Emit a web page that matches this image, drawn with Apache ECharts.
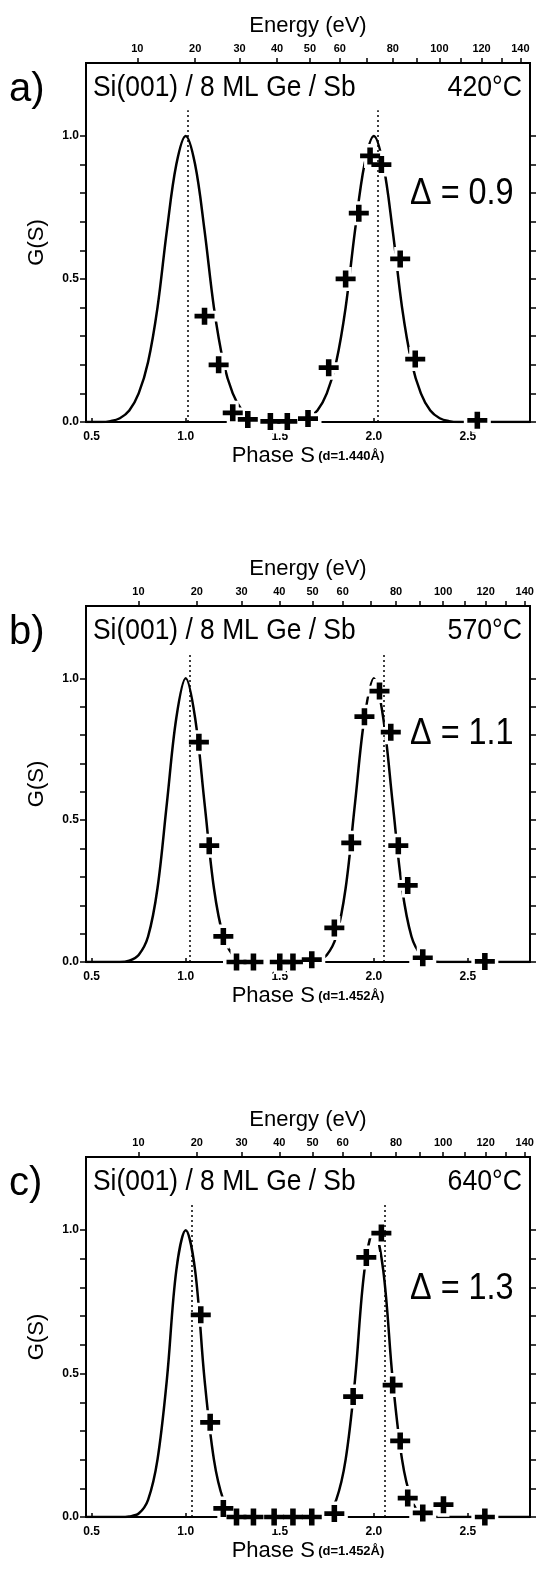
<!DOCTYPE html>
<html>
<head>
<meta charset="utf-8">
<script src="https://cdn.jsdelivr.net/npm/echarts@6/dist/echarts.min.js"></script>
<style>
html, body { margin: 0; background: #fff; }
#chart { width: 538px; height: 1571px; }
</style>
</head>
<body>
<div id="chart"></div>
<script>
// tick values
var phaseTicks = [0.5, 1.0, 1.5, 2.0, 2.5];
var gTicks = [0, 0.1, 0.2, 0.3, 0.4, 0.5, 0.6, 0.7, 0.8, 0.9, 1.0];
var gLabels = [0, 0.5, 1.0];
var energyLabels = [10, 20, 30, 40, 50, 60, 80, 100, 120, 140];
var energyMinor = [70, 90, 110, 130];

// panel texts
var panelNames = ['a)', 'b)', 'c)'];
var temps = ['420°C', '570°C', '640°C'];
var deltas = ['Δ = 0.9', 'Δ = 1.1', 'Δ = 1.3'];
var spacings = [1.440, 1.452, 1.452];

// fitted G(S) curves
var curveS = [0.47, 0.50, 0.55, 0.60, 0.65, 0.70, 0.75, 0.80, 0.85, 0.90, 0.95, 1.00, 1.05, 1.10, 1.15, 1.20, 1.25,
    1.30, 1.35, 1.40, 1.45, 1.50, 1.55, 1.60, 1.65, 1.70, 1.75, 1.80, 1.85, 1.90, 1.95, 2.00, 2.05, 2.10, 2.15, 2.20,
    2.25, 2.30, 2.35, 2.40, 2.45, 2.50, 2.55, 2.60, 2.65, 2.70, 2.75, 2.80, 2.83];
var curveGa = [0, 0, 0, 0.003, 0.013, 0.04, 0.10, 0.21, 0.40, 0.67, 0.90, 1.00, 0.90, 0.67, 0.40, 0.21, 0.10,
    0.04, 0.013, 0.003, 0, 0, 0, 0.003, 0.013, 0.04, 0.10, 0.21, 0.40, 0.67, 0.90, 1.00, 0.90, 0.67, 0.40, 0.21,
    0.10, 0.04, 0.013, 0.003, 0, 0, 0, 0, 0, 0, 0, 0, 0];
var curveGb = [0, 0, 0, 0, 0, 0.005, 0.025, 0.09, 0.26, 0.56, 0.86, 1.00, 0.86, 0.56, 0.26, 0.09, 0.025,
    0.005, 0, 0, 0, 0, 0, 0, 0, 0.005, 0.025, 0.09, 0.26, 0.56, 0.86, 1.00, 0.86, 0.56, 0.26, 0.09,
    0.025, 0.005, 0, 0, 0, 0, 0, 0, 0, 0, 0, 0, 0];
var curveGc = [0, 0, 0, 0, 0, 0.002, 0.012, 0.06, 0.20, 0.48, 0.86, 1.00, 0.86, 0.48, 0.20, 0.06, 0.012,
    0.002, 0, 0, 0, 0, 0, 0, 0, 0.002, 0.012, 0.06, 0.20, 0.48, 0.86, 1.00, 0.86, 0.48, 0.20, 0.06,
    0.012, 0.002, 0, 0, 0, 0, 0, 0, 0, 0, 0, 0, 0];

// measured points (crosses)
var crossSa = [1.10, 1.175, 1.25, 1.33, 1.45, 1.54, 1.65, 1.76, 1.85, 1.92, 1.98, 2.04, 2.14, 2.22, 2.55];
var crossGa = [0.37, 0.20, 0.032, 0.009, 0.002, 0.002, 0.012, 0.19, 0.50, 0.73, 0.93, 0.90, 0.57, 0.22, 0.006];
var crossSb = [1.07, 1.125, 1.20, 1.27, 1.36, 1.50, 1.57, 1.67, 1.79, 1.88, 1.95, 2.03, 2.09, 2.13, 2.18, 2.26, 2.59];
var crossGb = [0.775, 0.41, 0.09, 0, 0, 0, 0, 0.008, 0.12, 0.42, 0.865, 0.955, 0.81, 0.41, 0.27, 0.015, 0.002];
var crossSc = [1.08, 1.13, 1.20, 1.27, 1.36, 1.47, 1.57, 1.67, 1.79, 1.89, 1.96, 2.04, 2.10, 2.14, 2.18, 2.26, 2.37, 2.59];
var crossGc = [0.705, 0.33, 0.03, 0, 0, 0, 0, 0, 0.012, 0.42, 0.905, 0.99, 0.46, 0.265, 0.066, 0.014, 0.043, 0];

// dotted reference lines (phase S)
var dottedA = [1.01, 2.02];
var dottedB = [1.02, 2.05];
var dottedC = [1.03, 2.06];

var curves = [curveGa, curveGb, curveGc];
var crossS = [crossSa, crossSb, crossSc];
var crossG = [crossGa, crossGb, crossGc];
var dotted = [dottedA, dottedB, dottedC];

var FONT = "'Liberation Sans', Arial, sans-serif";
var gridTops = [63, 606, 1157];
var gridHeights = [359, 356, 360];
var xMin = 0.47, xMax = 2.83, yMax = 1.255;

var crossPath = 'path://M6.5,0H11.5V6.5H18V11.5H11.5V18H6.5V11.5H0V6.5H6.5Z';
var haloPath = 'path://M5,0H13V5H18V13H13V18H5V13H0V5H5Z';

function energyToS(e, d) {
    return 2 * d * Math.sqrt(e / 150.4);
}
function pairs(xs, ys) {
    return xs.map(function (x, k) { return [x, ys[k]]; });
}

var chart = echarts.init(document.getElementById('chart'));
var option = {
    animation: false,
    backgroundColor: '#fff',
    textStyle: { fontFamily: FONT, color: '#000' },
    grid: [],
    xAxis: [],
    yAxis: [],
    series: [],
    graphic: []
};

for (var i = 0; i < 3; i++) {
    var d = spacings[i];
    option.grid.push({
        left: 86, width: 444, top: gridTops[i], height: gridHeights[i],
        show: true, borderColor: '#000', borderWidth: 2
    });
    // bottom phase axis
    option.xAxis.push({
        type: 'value', gridIndex: i, position: 'bottom', min: xMin, max: xMax,
        axisLine: { show: true, onZero: false, lineStyle: { color: '#000', width: 2 } },
        axisTick: { show: true, inside: true, length: 4, customValues: phaseTicks, lineStyle: { color: '#000', width: 1.5 } },
        axisLabel: {
            customValues: phaseTicks, margin: 9, color: '#000', fontSize: 12, fontWeight: 'bold', fontFamily: FONT,
            formatter: function (v) { return v.toFixed(1); }
        },
        splitLine: { show: false },
        name: '{p|Phase S} {d|(d=' + d.toFixed(3) + 'Å)}',
        nameLocation: 'middle', nameGap: 23,
        nameTextStyle: {
            rich: {
                p: { fontSize: 22, fontFamily: FONT, color: '#000' },
                d: { fontSize: 13, fontWeight: 'bold', fontFamily: FONT, color: '#000' }
            }
        }
    });
    // top energy axis
    option.xAxis.push({
        type: 'value', gridIndex: i, position: 'top', min: xMin, max: xMax,
        axisLine: { show: true, onZero: false, lineStyle: { color: '#000', width: 2 } },
        axisTick: {
            show: true, length: 5, lineStyle: { color: '#000', width: 1.5 },
            customValues: energyLabels.concat(energyMinor).map(function (e) { return energyToS(e, d); })
        },
        axisLabel: {
            customValues: energyLabels.map(function (e) { return energyToS(e, d); }),
            margin: 9, color: '#000', fontSize: 11, fontWeight: 'bold', fontFamily: FONT,
            formatter: (function (dd) {
                return function (v) { return String(Math.round(150.4 * Math.pow(v / (2 * dd), 2))); };
            })(d)
        },
        splitLine: { show: false },
        name: 'Energy (eV)', nameLocation: 'middle', nameGap: 26,
        nameTextStyle: { fontSize: 22, fontFamily: FONT, color: '#000' }
    });
    // left G(S) axis
    option.yAxis.push({
        type: 'value', gridIndex: i, position: 'left', min: 0, max: yMax,
        axisLine: { show: true, onZero: false, lineStyle: { color: '#000', width: 2 } },
        axisTick: { show: true, length: 6, customValues: gTicks, lineStyle: { color: '#000', width: 1.5 } },
        axisLabel: {
            customValues: gLabels, margin: 7, color: '#000', fontSize: 12, fontWeight: 'bold', fontFamily: FONT,
            formatter: function (v) { return v.toFixed(1); }
        },
        splitLine: { show: false },
        name: 'G(S)', nameLocation: 'middle', nameGap: 38,
        nameTextStyle: { fontSize: 22, fontFamily: FONT, color: '#000' }
    });
    // right tick-only axis
    option.yAxis.push({
        type: 'value', gridIndex: i, position: 'right', min: 0, max: yMax,
        axisLine: { show: true, onZero: false, lineStyle: { color: '#000', width: 2 } },
        axisTick: { show: true, length: 6, customValues: gTicks, lineStyle: { color: '#000', width: 1.5 } },
        axisLabel: { show: false },
        splitLine: { show: false }
    });

    option.series.push({
        type: 'line', xAxisIndex: 2 * i, yAxisIndex: 2 * i,
        data: pairs(curveS, curves[i]),
        showSymbol: false, smooth: 0.35, z: 2,
        lineStyle: { color: '#000', width: 2.5 },
        markLine: {
            silent: true, symbol: 'none', label: { show: false },
            lineStyle: { color: '#000', width: 1.5, type: [2, 3] },
            data: dotted[i].map(function (s) { return [{ coord: [s, 0] }, { coord: [s, 1.09] }]; })
        }
    });
    option.series.push({
        type: 'scatter', xAxisIndex: 2 * i, yAxisIndex: 2 * i,
        data: pairs(crossS[i], crossG[i]),
        symbol: haloPath, symbolSize: [27, 24], z: 3, silent: true,
        itemStyle: { color: '#fff', opacity: 1 }
    });
    option.series.push({
        type: 'scatter', xAxisIndex: 2 * i, yAxisIndex: 2 * i,
        data: pairs(crossS[i], crossG[i]),
        symbol: crossPath, symbolSize: [20, 17], z: 4,
        itemStyle: { color: '#000', opacity: 1 }
    });

    var panelTop = gridTops[i];
    var zeroY = panelTop + gridHeights[i];
    option.graphic.push(
        { type: 'text', x: 9, y: panelTop + 27, style: { text: panelNames[i], font: '40px ' + FONT, fill: '#000', textAlign: 'left', textVerticalAlign: 'middle' } },
        { type: 'text', x: 93, y: panelTop + 25, scaleX: 0.88, style: { text: 'Si(001) / 8 ML Ge / Sb', font: '30px ' + FONT, fill: '#000', textAlign: 'left', textVerticalAlign: 'middle' } },
        { type: 'text', x: 522, y: panelTop + 25, scaleX: 0.92, style: { text: temps[i], font: '29px ' + FONT, fill: '#000', textAlign: 'right', textVerticalAlign: 'middle' } },
        { type: 'text', x: 410, y: zeroY - 0.8 * 285, scaleX: 0.9, style: { text: deltas[i], font: '36px ' + FONT, fill: '#000', textAlign: 'left', textVerticalAlign: 'middle' } }
    );
}

chart.setOption(option);
</script>
</body>
</html>
